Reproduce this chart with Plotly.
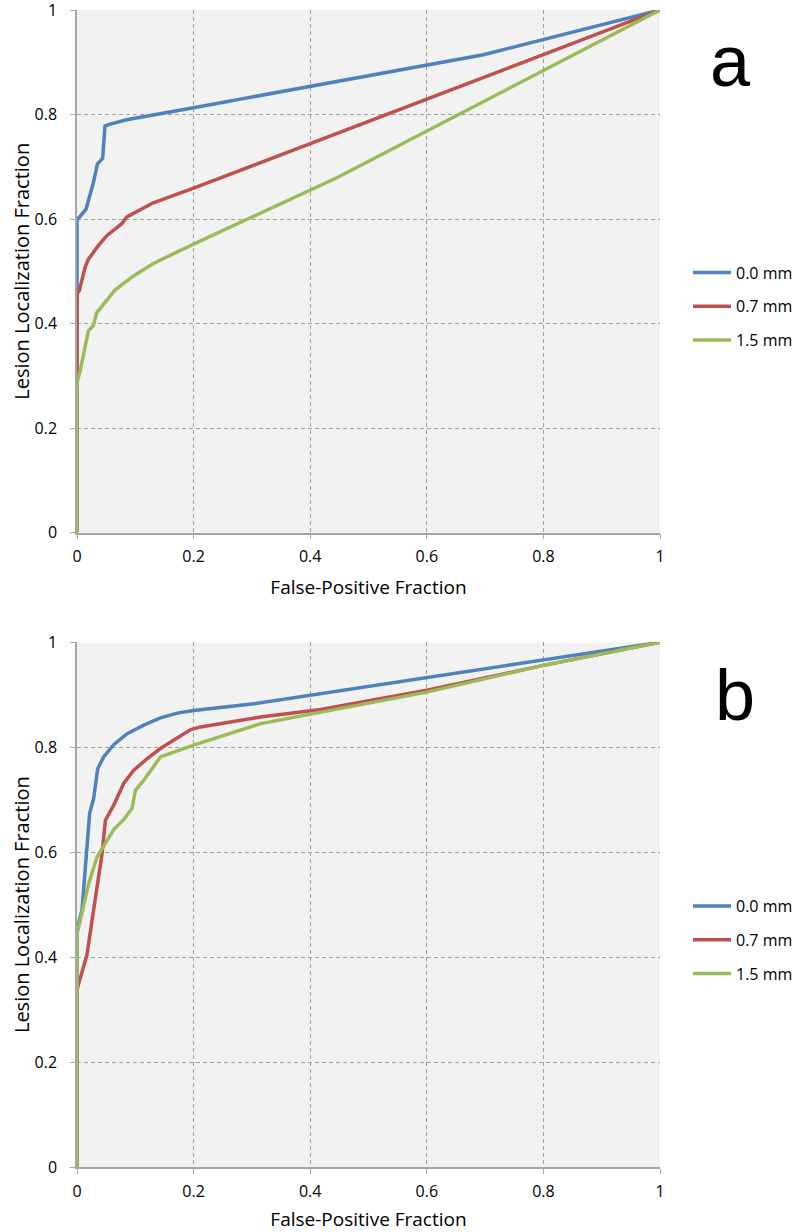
import plotly.graph_objects as go

# ---------------- data ----------------
series_names = ["0.0 mm", "0.7 mm", "1.5 mm"]
series_colors = ["#4f81bd", "#c0504d", "#9bbb59"]

# panel a
fpf_a_00 = [0, 0, 0.0155, 0.028, 0.035, 0.044, 0.048, 0.0555, 0.085, 0.2, 0.697, 1.0]
llf_a_00 = [0, 0.598, 0.619, 0.669, 0.705, 0.716, 0.778, 0.781, 0.790, 0.813, 0.9145, 1.0]

fpf_a_07 = [0, 0, 0.004, 0.0137, 0.0195, 0.0366, 0.051, 0.0768, 0.0854, 0.131, 0.2, 1.0]
llf_a_07 = [0, 0.457, 0.463, 0.507, 0.523, 0.549, 0.568, 0.591, 0.604, 0.631, 0.659, 1.0]

fpf_a_15 = [0, 0, 0.005, 0.0195, 0.028, 0.034, 0.065, 0.097, 0.131, 0.2, 0.4457, 1.0]
llf_a_15 = [0, 0.288, 0.307, 0.386, 0.396, 0.421, 0.464, 0.491, 0.515, 0.552, 0.679, 1.0]

# panel b
fpf_b_00 = [0, 0, 0.0086, 0.017, 0.0217, 0.0285, 0.0355, 0.0457, 0.063, 0.086, 0.1145,
            0.143, 0.172, 0.2, 0.3035, 1.0]
llf_b_00 = [0, 0.453, 0.49, 0.604, 0.674, 0.702, 0.759, 0.7815, 0.805, 0.826, 0.842,
            0.856, 0.865, 0.870, 0.883, 1.0]

fpf_b_07 = [0, 0, 0.003, 0.017, 0.031, 0.034, 0.043, 0.0487, 0.063, 0.080, 0.097, 0.120,
            0.143, 0.195, 0.212, 0.315, 0.418, 0.6, 0.8, 1.0]
llf_b_07 = [0, 0.337, 0.35, 0.404, 0.5086, 0.534, 0.5975, 0.661, 0.6895, 0.731, 0.756, 0.778,
            0.7975, 0.8337, 0.8387, 0.8577, 0.872, 0.9086, 0.956, 1.0]

fpf_b_15 = [0, 0, 0.003, 0.02, 0.034, 0.046, 0.063, 0.080, 0.0944, 0.1002, 0.1145, 0.143,
            0.2, 0.315, 0.4, 0.6, 0.8, 1.0]
llf_b_15 = [0, 0.445, 0.4577, 0.540, 0.590, 0.613, 0.643, 0.662, 0.683, 0.718, 0.737, 0.7815,
            0.804, 0.845, 0.863, 0.905, 0.956, 1.0]

tick_vals = [0, 0.2, 0.4, 0.6, 0.8, 1.0]
tick_text = ["0", "0.2", "0.4", "0.6", "0.8", "1"]
panel_labels = ["a", "b"]
x_title = "False-Positive Fraction"
y_title = "Lesion Localization Fraction"

# ---------------- figure ----------------
FONT = "Open Sans"
fig = go.Figure()

panels = [
    ("x", "y", "legend", [(fpf_a_00, llf_a_00), (fpf_a_07, llf_a_07), (fpf_a_15, llf_a_15)]),
    ("x2", "y2", "legend2", [(fpf_b_00, llf_b_00), (fpf_b_07, llf_b_07), (fpf_b_15, llf_b_15)]),
]
for xa, ya, lg, data in panels:
    for (xs, ys), name, col in zip(data, series_names, series_colors):
        fig.add_trace(go.Scatter(
            x=xs, y=ys, mode="lines", name=name, xaxis=xa, yaxis=ya,
            legend=lg, legendgroup=lg + name, cliponaxis=False,
            line=dict(color=col, width=3.5, shape="linear"),
        ))

axis_common = dict(
    range=[0, 1], tickmode="array", tickvals=tick_vals, ticktext=tick_text,
    showgrid=True, gridcolor="#a0a0a0", griddash="4px,3px", gridwidth=1,
    zeroline=False, showline=True, linecolor="#a6a6a6", linewidth=1.5,
    ticks="outside", ticklen=5, tickcolor="#a6a6a6", tickwidth=1,
    tickfont=dict(family=FONT, size=16, color="#000"),
    ticklabeloverflow="allow",
    automargin=False, fixedrange=True,
)

xd = dict(axis_common, ticklabelstandoff=4,
          title=dict(text=x_title, font=dict(family=FONT, size=19, color="#000"), standoff=14))
yd = dict(axis_common, ticklabelstandoff=10,
          title=dict(text=y_title, font=dict(family=FONT, size=20, color="#000"), standoff=0))

legend_common = dict(
    font=dict(family=FONT, size=16, color="#000"), bgcolor="rgba(0,0,0,0)",
    traceorder="grouped", tracegroupgap=10, xanchor="left", yanchor="middle",
    xref="container", x=688 / 793,
    itemclick=False, itemdoubleclick=False, itemwidth=38,
)

fig.update_layout(
    width=793, height=1232,
    margin=dict(l=77, r=133, t=10, b=65, autoexpand=False),
    paper_bgcolor="white", plot_bgcolor="#f2f2f2",
    showlegend=True,
    xaxis=dict(xd, domain=[0, 1], anchor="y"),
    yaxis=dict(yd, domain=[0.5484, 1.0], anchor="x"),
    xaxis2=dict(xd, domain=[0, 1], anchor="y2"),
    yaxis2=dict(yd, domain=[0.0, 0.4535], anchor="x2"),
    legend=dict(legend_common, y=0.7437),
    legend2=dict(legend_common, y=0.1962),
    annotations=[
        dict(text=panel_labels[0], xref="paper", yref="paper", x=1.121, y=0.9562,
             xanchor="center", yanchor="middle", showarrow=False,
             font=dict(family="Liberation Sans", size=72, color="#000")),
        dict(text=panel_labels[1], xref="paper", yref="paper", x=1.1285, y=0.4079,
             xanchor="center", yanchor="middle", showarrow=False,
             font=dict(family="Liberation Sans", size=72, color="#000")),
    ],
)

fig.write_html("out.html", post_script="document.body.style.margin='0';",
               config={"displayModeBar": False})
